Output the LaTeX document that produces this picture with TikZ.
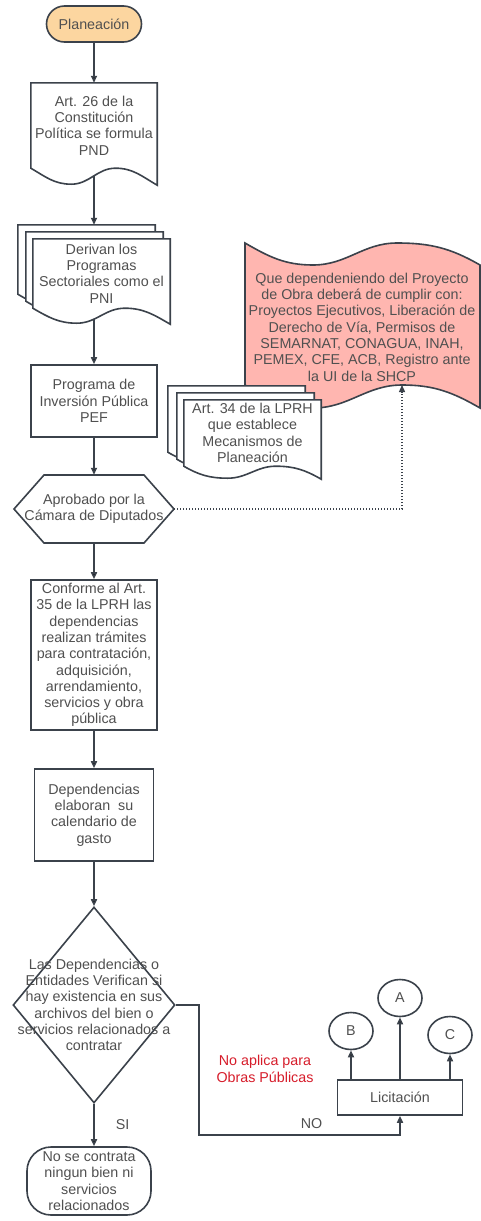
\documentclass[tikz,border=0pt]{standalone}
\usepackage{fontspec}
\setmainfont{Liberation Sans}
\usepackage{tikz}
\usetikzlibrary{positioning,calc,shapes.geometric,arrows.meta}
\pgfdeclarelayer{background}
\pgfsetlayers{background,main}

\definecolor{linegray}{RGB}{59,66,75}
\definecolor{txtgray}{RGB}{80,80,80}
\definecolor{peach}{RGB}{252,214,160}
\definecolor{salmon}{RGB}{255,182,176}
\definecolor{notered}{RGB}{214,28,42}

% document outline with a wavy bottom, drawn round a named node
\newcommand{\docshape}[3][0,0]{%
  \draw [ outline ] ($(#2.north west)+(#1)$) -- ($(#2.north east)+(#1)$)
    -- ($(#2.south east)+(#1)+(0,#3+1)$)
    to [out=150,in=0] ($(#2.south west)!0.67!(#2.south east)+(#1)$)
    to [out=180,in=0] ($(#2.south west)!0.32!(#2.south east)+(#1)+(0,#3)$)
    to [out=180,in=-30] ($(#2.south west)+(#1)$) -- cycle;}

\begin{document}
\begin{tikzpicture}[ x=1pt , y=-1pt , on grid ,
  base/.style={font=\fontsize{14.3}{16.3}\selectfont, text=txtgray, align=center, inner sep=0pt},
  box/.style={base, draw=linegray, line width=1.6pt, fill=white},
  term/.style={box, rounded corners=18pt},
  doc/.style={base},
  outline/.style={draw=linegray, line width=1.6pt, fill=white},
  conn/.style={draw=linegray, line width=1.6pt, -{Triangle[length=7pt,width=6pt]}} ]
\useasboundingbox (0,0) rectangle (480,1221);

\node [ term , fill=peach , minimum width=95pt , minimum height=36pt ] (plan) at (94,24) {Planeación};
\node [ doc , minimum width=126pt , minimum height=85pt ] (art26) [below = 101.5pt of plan] {Art. 26 de la\\Constitución\\Política se formula\\PND};
\node [ doc , minimum width=137pt , minimum height=69pt ] (derivan) [below = 148pt of art26 , xshift=7.5pt] {Derivan los\\Programas\\Sectoriales como el\\PNI};
\node [ box , minimum width=126pt , minimum height=72pt ] (pef) [below = 127.5pt of derivan , xshift=-7.5pt] {Programa de\\Inversión Pública\\PEF};
\node [ doc , minimum width=100pt , minimum height=68pt ] (appr) [below = 108pt of pef] {Aprobado por la\\Cámara de Diputados};
\node [ box , minimum width=126pt , minimum height=150pt ] (art35) [below = 146pt of appr] {Conforme al Art.\\35 de la LPRH las\\dependencias\\realizan trámites\\para contratación,\\adquisición,\\arrendamiento,\\servicios y obra\\pública};
\node [ box , minimum width=119pt , minimum height=92pt ] (calend) [below = 160pt of art35] {Dependencias\\elaboran~ su\\calendario de\\gasto};
\node [ box , diamond , minimum width=162pt , minimum height=196pt ,
  label={[base , name=verifTxt]center:{Las Dependencias o\\Entidades Verifican si\\hay existencia en sus\\archivos del bien o\\servicios relacionados a\\contratar}} ] (verif) [below = 190pt of calend] {};
\node [ box , rounded corners=24pt , minimum width=124pt , minimum height=68pt ] (nocont) [below = 176pt of verif , xshift=-5pt] {No se contrata\\ningun bien ni\\servicios\\relacionados};

\node [ box , minimum width=125pt , minimum height=35pt ] (licit) at (400,1097.5) {Licitación};
\node [ box , ellipse , minimum width=44pt , minimum height=37pt ] (A) [above = 99.5pt of licit] {A};
\node [ box , ellipse , minimum width=44pt , minimum height=37pt ] (B) [above left = 66.5pt and 49pt of licit] {B};
\node [ box , ellipse , minimum width=44pt , minimum height=37pt ] (C) [above right = 62.5pt and 50pt of licit] {C};
\node [ base , text=notered ] (nota) at (265,1069) {No aplica para\\Obras Públicas};

\node [ doc ] (req) at (362,327) {Que dependeniendo del Proyecto\\de Obra deberá de cumplir con:\\Proyectos Ejecutivos, Liberación de\\Derecho de Vía, Permisos de\\SEMARNAT, CONAGUA, INAH,\\PEMEX, CFE, ACB, Registro ante\\la UI de la SHCP};
\node [ doc , minimum width=137pt , minimum height=66pt ] (art34) at (252.5,433) {Art. 34 de la LPRH\\que establece\\Mecanismos de\\Planeación};

\coordinate (dtop) at ($(derivan.north)+(0,-14)$);
\coordinate (apprE) at ($(appr)+(80,0)$);
\coordinate (reqIn) at ($(req)+(40,58)$);

\begin{pgfonlayer}{background}
\path [ conn ]
(plan) edge (art26)
(art26) edge (art26 |- dtop)
(pef |- derivan) edge (pef.north)
(pef) edge (appr)
(appr) edge (art35)
(art35) edge (calend)
(calend) edge (verif)
(verif.south) edge node [ base , anchor=west , xshift=21pt ] {SI} (verif.south |- nocont.north)
(licit.north -| B) edge (B)
(licit) edge (A)
(licit.north -| C) edge (C);
\draw [ conn ] (verif.east) -- ++(23,0) |- node [ base , pos=0.78 , anchor=south , yshift=5pt ] {NO} ([yshift=-19pt]licit.south) -- (licit.south);
\draw [ conn , line width=1.3pt , dash pattern=on 1.3pt off 1.7pt ] (apprE) -| (reqIn);

% pink tape
\draw [ outline , fill=salmon ] ($(req)+(-117,-84)$) to [out=-30,in=180] ($(req)+(-49,-62)$)
  to [out=0,in=180] ($(req)+(35,-84)$) to [out=0,in=150] ($(req)+(118,-62)$)
  -- ($(req)+(118,81)$) to [out=150,in=0] (reqIn) to [out=180,in=0] ($(req)+(-49,81)$)
  to [out=180,in=-30] ($(req)+(-117,58)$) -- cycle;

\docshape{art26}{16}
\docshape[-15,-14]{derivan}{15}
\docshape[-7,-7]{derivan}{15}
\docshape{derivan}{15}
\docshape[-16,-14]{art34}{12}
\docshape[-7,-7]{art34}{12}
\docshape{art34}{12}

% hexagon
\draw [ outline ] ($(appr)+(-50,-34)$) -- ($(appr)+(50,-34)$) -- (apprE) -- ($(appr)+(50,34)$)
  -- ($(appr)+(-50,34)$) -- ($(appr)+(-80,0)$) -- cycle;
\end{pgfonlayer}
\end{tikzpicture}
\end{document}
